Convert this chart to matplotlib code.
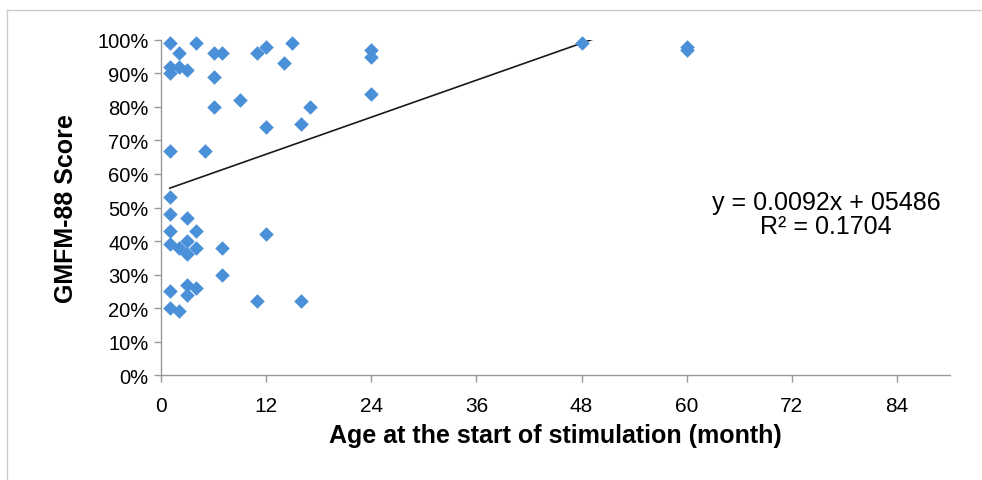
import matplotlib.pyplot as plt
from matplotlib.ticker import PercentFormatter
from matplotlib.lines import Line2D

# age at start of stimulation (months) and GMFM-88 score (fraction)
age = [1, 4, 2, 6, 7, 11, 12, 15, 1, 2, 3, 1, 14, 6, 6, 9, 17, 12, 16, 1, 5,
       1, 1, 3, 1, 4, 12, 1, 2, 3, 4, 3, 7, 7, 3, 4, 1, 3, 11, 16, 1, 2,
       24, 24, 24, 48, 60, 60]
score = [0.99, 0.99, 0.96, 0.96, 0.96, 0.96, 0.98, 0.99, 0.92, 0.92, 0.91, 0.90, 0.93, 0.89, 0.80, 0.82, 0.80, 0.74, 0.75, 0.67, 0.67,
         0.53, 0.48, 0.47, 0.43, 0.43, 0.42, 0.39, 0.38, 0.40, 0.38, 0.36, 0.38, 0.30, 0.27, 0.26, 0.25, 0.24, 0.22, 0.22, 0.20, 0.19,
         0.97, 0.95, 0.84, 0.99, 0.98, 0.97]

slope = 0.0092
intercept = 0.5486
x_ticks = [0, 12, 24, 36, 48, 60, 72, 84]

plt.rcParams['font.family'] = ['Liberation Sans', 'DejaVu Sans']

fig = plt.figure(figsize=(9.82, 4.81), dpi=100)
ax = fig.add_axes([0.164, 0.218, 0.803, 0.697])

ax.scatter(age, score, marker='D', s=55, color='#4A90D9', linewidths=0, zorder=3, clip_on=False)

# trend line, clipped by the top of the axis
tx = [min(age), max(age)]
ty = [slope * v + intercept for v in tx]
ax.plot(tx, ty, color='#1a1a1a', linewidth=1.2, zorder=2)

ax.set_xlim(0, 90)
ax.set_ylim(0, 1)
ax.set_xticks(x_ticks)
ax.set_yticks([i / 10 for i in range(11)])
ax.yaxis.set_major_formatter(PercentFormatter(1.0, decimals=0))

for s in ['top', 'right']:
    ax.spines[s].set_visible(False)
for s in ['left', 'bottom']:
    ax.spines[s].set_color('#999999')
    ax.spines[s].set_linewidth(1.0)
ax.tick_params(axis='both', colors='#999999', labelcolor='black', length=5, width=1.0)
ax.tick_params(axis='y', labelsize=14.5, pad=4)
ax.tick_params(axis='x', labelsize=15, pad=10)

ax.set_xlabel('Age at the start of stimulation (month)', fontsize=18, fontweight='bold', labelpad=6)
ax.set_ylabel('GMFM-88 Score', fontsize=18, fontweight='bold', labelpad=14)

ax.text(0.841, 0.553, 'y = 0.0092x + 05486\nR² = 0.1704', transform=fig.transFigure,
        ha='center', va='center', fontsize=18, linespacing=1.05)

# light frame around the chart area
fig.add_artist(Line2D([0.007, 1.0], [0.977, 0.977], transform=fig.transFigure, color='#cccccc', linewidth=1))
fig.add_artist(Line2D([0.007, 0.007], [0.0, 0.977], transform=fig.transFigure, color='#cccccc', linewidth=1))

fig.savefig('out.png', dpi=100)
